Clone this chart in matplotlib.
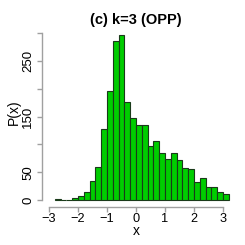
import matplotlib
matplotlib.use("Agg")
import matplotlib.pyplot as plt
import numpy as np

plt.rcParams['font.family'] = ['Liberation Sans', 'DejaVu Sans']

bin_left = [-2.8, -2.6, -2.4, -2.2, -2.0, -1.8, -1.6, -1.4, -1.2, -1.0,
            -0.8, -0.6, -0.4, -0.2, 0.0, 0.2, 0.4, 0.6, 0.8, 1.0,
            1.2, 1.4, 1.6, 1.8, 2.0, 2.2, 2.4, 2.6, 2.8, 3.0]
counts = [1, 0, 0, 3, 8, 14, 35, 59, 127, 196,
          286, 297, 176, 147, 134, 134, 97, 106, 85, 73,
          85, 71, 57, 55, 32, 39, 23, 23, 14, 11]
bin_width = 0.2
xticks = [-3, -2, -1, 0, 1, 2, 3]
yticks = [0, 50, 100, 150, 200, 250, 300]
ytick_labels = ['0', '50', '', '150', '', '250', '']
title = "(c) k=3 (OPP)"
xlabel = "x"
ylabel = "P(x)"

W = H = 245
fig = plt.figure(figsize=(2.45, 2.45), dpi=100)
left_px, right_px, bottom_px, top_px = 42, 231.7, 207, 29.7
ax = fig.add_axes([left_px / W, (H - bottom_px) / H,
                   (right_px - left_px) / W, (bottom_px - top_px) / H])

ax.bar(bin_left, counts, width=bin_width, align='edge',
       color='#00CD00', edgecolor='#1a3a1a', linewidth=0.8)

ax.set_xlim(-3.24, 3.3)
ax.set_ylim(-12.6, 306)

for s in ['top', 'right']:
    ax.spines[s].set_visible(False)
for s in ['left', 'bottom']:
    ax.spines[s].set_color('#a0a0a0')
    ax.spines[s].set_linewidth(1.0)
ax.spines['left'].set_bounds(0, 300)
ax.spines['bottom'].set_bounds(-3, 3)

ax.set_xticks(xticks)
ax.set_xticklabels([('\u2212' if t < 0 else '') + str(abs(t)) for t in xticks])
ax.set_yticks(yticks)
ax.set_yticklabels(ytick_labels, rotation=90, va='center')
ax.tick_params(axis='both', colors='#a0a0a0', labelcolor='black',
               length=3.5, width=1.0, labelsize=9.5, pad=2)
ax.tick_params(axis='x', pad=0.5, labelsize=9.2)

fig.text(136 / W, 1 - 20 / H, title, ha='center', va='center',
         fontsize=10.5, fontweight='bold')
fig.text(136 / W, 1 - 224 / H, xlabel, ha='center', va='top', fontsize=10)
fig.text(14 / W, 1 - 112 / H, ylabel, ha='center', va='center',
         fontsize=10, rotation=90)

fig.savefig("out.png", dpi=100)
